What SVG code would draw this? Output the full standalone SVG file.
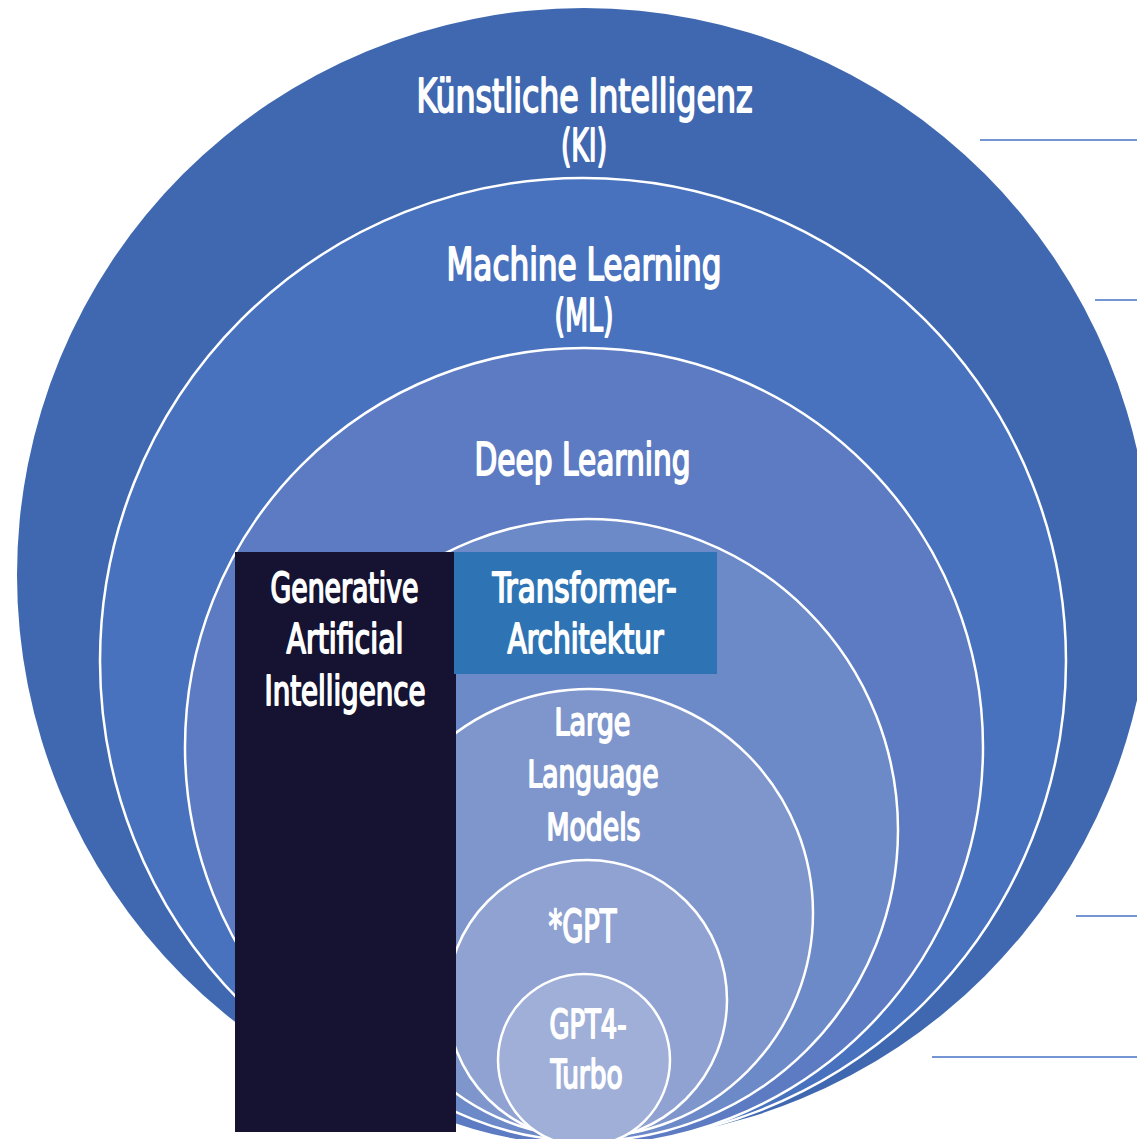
<svg xmlns="http://www.w3.org/2000/svg" width="1137" height="1139" viewBox="0 0 1137 1139">
  <style>
    .ring { stroke: #ffffff; stroke-width: 2.5; }
    .lbl { font-family: "DejaVu Sans Condensed", "DejaVu Sans", "Liberation Sans", sans-serif; font-weight: normal; fill: #ffffff; stroke: #ffffff; stroke-width: 1.8; stroke-linejoin: round; text-anchor: middle; }
    .conn { stroke: #4472C4; stroke-width: 1.5; fill: none; }
  </style>
  <rect x="0" y="0" width="1137" height="1139" fill="#ffffff"/>

  <g id="ki">
    <circle cx="584" cy="575" r="567" fill="#3F68B0"/>
    <text class="lbl" x="584.5" y="112" font-size="46" textLength="336" lengthAdjust="spacingAndGlyphs">Künstliche Intelligenz</text>
    <text class="lbl" x="584" y="161" font-size="45" textLength="46" lengthAdjust="spacingAndGlyphs">(KI)</text>
  </g>

  <g id="ml">
    <circle class="ring" cx="583" cy="661" r="483" fill="#4872BE"/>
    <text class="lbl" x="584" y="280" font-size="44" textLength="275" lengthAdjust="spacingAndGlyphs">Machine Learning</text>
    <text class="lbl" x="584" y="331" font-size="44" textLength="59" lengthAdjust="spacingAndGlyphs">(ML)</text>
  </g>

  <g id="dl">
    <circle class="ring" cx="584" cy="747" r="399" fill="#5C7BC2"/>
    <text class="lbl" x="582.5" y="475" font-size="44" textLength="216" lengthAdjust="spacingAndGlyphs">Deep Learning</text>
  </g>

  <g id="transformer-circle">
    <circle class="ring" cx="587" cy="830" r="311" fill="#6C89C8"/>
  </g>

  <g id="llm">
    <circle class="ring" cx="589" cy="913" r="224" fill="#7F96CC"/>
    <text class="lbl" x="592.5" y="735" font-size="38" textLength="76" lengthAdjust="spacingAndGlyphs">Large</text>
    <text class="lbl" x="593" y="787" font-size="38" textLength="131" lengthAdjust="spacingAndGlyphs">Language</text>
    <text class="lbl" x="593.5" y="840" font-size="38" textLength="94" lengthAdjust="spacingAndGlyphs">Models</text>
  </g>

  <g id="gpt">
    <circle class="ring" cx="587" cy="1000" r="140" fill="#8FA2D2"/>
    <text class="lbl" x="582.5" y="942" font-size="44" textLength="68" lengthAdjust="spacingAndGlyphs">*GPT</text>
  </g>

  <g id="gpt4-turbo">
    <circle class="ring" cx="584" cy="1060" r="86" fill="#9FAFD8"/>
    <text class="lbl" x="588" y="1038" font-size="39" textLength="77" lengthAdjust="spacingAndGlyphs">GPT4-</text>
    <text class="lbl" x="586.5" y="1088" font-size="39" textLength="72" lengthAdjust="spacingAndGlyphs">Turbo</text>
  </g>

  <g id="generative-ai">
    <rect x="235" y="552" width="221" height="580" fill="#151232"/>
    <text class="lbl" x="344.5" y="602" font-size="41" textLength="148" lengthAdjust="spacingAndGlyphs">Generative</text>
    <text class="lbl" x="345" y="653" font-size="41" textLength="117" lengthAdjust="spacingAndGlyphs">Artificial</text>
    <text class="lbl" x="345" y="705" font-size="41" textLength="161" lengthAdjust="spacingAndGlyphs">Intelligence</text>
  </g>

  <g id="transformer-architektur">
    <rect x="454" y="552" width="263" height="122" fill="#2E74B5"/>
    <text class="lbl" x="584.5" y="602" font-size="40" textLength="184" lengthAdjust="spacingAndGlyphs">Transformer-</text>
    <text class="lbl" x="585.5" y="653" font-size="40" textLength="156" lengthAdjust="spacingAndGlyphs">Architektur</text>
  </g>

  <g id="connectors">
    <line class="conn" x1="980" y1="140" x2="1137" y2="140"/>
    <line class="conn" x1="1095" y1="300" x2="1137" y2="300"/>
    <line class="conn" x1="1076" y1="916" x2="1137" y2="916"/>
    <line class="conn" x1="932" y1="1057" x2="1137" y2="1057"/>
  </g>
</svg>
